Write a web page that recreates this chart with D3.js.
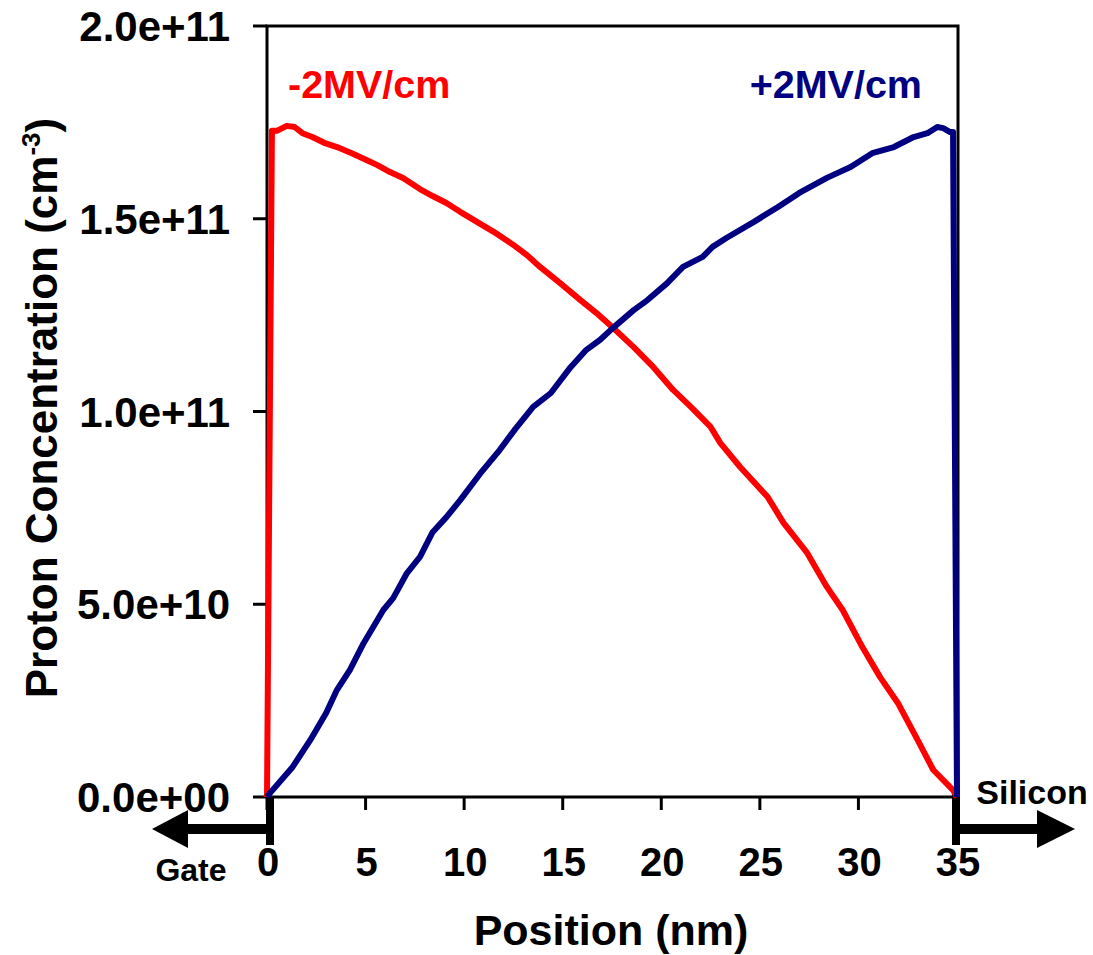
<!DOCTYPE html>
<html>
<head>
<meta charset="utf-8">
<script src="https://cdn.jsdelivr.net/npm/d3@7"></script>
<style>
  body { margin: 0; background: #fff; }
  svg text { font-family: "Liberation Sans", Arial, sans-serif; font-weight: bold; }
</style>
</head>
<body>
<svg id="chart" width="1093" height="955"></svg>
<script>
// Red curve (-2MV/cm): position (nm) and concentration (cm^-3)
const redX = [0, 0.25, 0.5, 1.0, 1.4, 1.8, 2.3, 2.9, 3.55, 4.3, 5.07, 5.6, 6.24, 6.9, 7.76, 8.4, 9.1, 9.8,
  10.65, 11.5, 12.5, 13.2, 13.85, 14.87, 15.9, 16.7, 17.55, 18.6, 19.6, 20.6, 21.5, 22.5, 23.0, 24.0,
  25.4, 26.2, 27.4, 28.4, 29.2, 30.2, 31.1, 32.0, 33.0, 33.8, 34.8, 35];
const redY = [0, 1.728e11, 1.728e11, 1.741e11, 1.738e11, 1.722e11, 1.712e11, 1.697e11, 1.686e11, 1.670e11,
  1.652e11, 1.639e11, 1.621e11, 1.606e11, 1.577e11, 1.559e11, 1.541e11, 1.518e11, 1.492e11, 1.466e11,
  1.432e11, 1.405e11, 1.375e11, 1.333e11, 1.289e11, 1.256e11, 1.217e11, 1.167e11, 1.115e11, 1.056e11,
  1.012e11, 0.960e11, 0.918e11, 0.856e11, 0.778e11, 0.711e11, 0.633e11, 0.545e11, 0.485e11, 0.389e11,
  0.311e11, 0.244e11, 0.148e11, 0.070e11, 0.018e11, 0];

// Blue curve (+2MV/cm)
const blueX = [0, 0.15, 1.3, 2.2, 3.0, 3.55, 4.2, 4.9, 5.9, 6.4, 7.1, 7.76, 8.4, 9.1, 9.8, 10.8, 11.8,
  12.6, 13.5, 14.4, 15.4, 16.2, 16.9, 17.55, 18.6, 19.3, 20.3, 21.1, 22.1, 22.6, 23.3, 24.7, 25.9, 27.0,
  28.4, 29.6, 30.7, 31.8, 32.8, 33.5, 34.0, 34.3, 34.65, 34.8, 35];
const blueY = [0, 0.010e11, 0.078e11, 0.148e11, 0.218e11, 0.278e11, 0.329e11, 0.399e11, 0.485e11, 0.516e11,
  0.581e11, 0.623e11, 0.687e11, 0.726e11, 0.770e11, 0.838e11, 0.900e11, 0.955e11, 1.012e11, 1.048e11,
  1.115e11, 1.160e11, 1.186e11, 1.217e11, 1.263e11, 1.289e11, 1.333e11, 1.375e11, 1.401e11, 1.427e11,
  1.450e11, 1.492e11, 1.530e11, 1.567e11, 1.606e11, 1.634e11, 1.670e11, 1.686e11, 1.712e11, 1.722e11,
  1.738e11, 1.735e11, 1.725e11, 1.725e11, 0];

// Axis ticks
const xTicks = [0, 5, 10, 15, 20, 25, 30, 35];
const yTicks = [0, 0.5e11, 1.0e11, 1.5e11, 2.0e11];
const yTickLabels = ["0.0e+00", "5.0e+10", "1.0e+11", "1.5e+11", "2.0e+11"];

const svg = d3.select("#chart");
const plotLeft = 267, plotRight = 957, plotTop = 26, plotBottom = 797;

const x = d3.scaleLinear().domain([0, 35]).range([plotLeft, plotRight]);
const y = d3.scaleLinear().domain([0, 2e11]).range([plotBottom, plotTop]);

// plot box
svg.append("rect")
    .attr("x", plotLeft).attr("y", plotTop)
    .attr("width", plotRight - plotLeft + 1).attr("height", plotBottom - plotTop)
    .attr("fill", "none").attr("stroke", "#000").attr("stroke-width", 3);

// y ticks + labels
yTicks.forEach((t, i) => {
    svg.append("line")
        .attr("x1", plotLeft - 14).attr("x2", plotLeft)
        .attr("y1", y(t)).attr("y2", y(t))
        .attr("stroke", "#000").attr("stroke-width", 3);
    svg.append("text")
        .attr("x", 230).attr("y", y(t))
        .attr("dy", "0.36em")
        .attr("text-anchor", "end")
        .attr("font-size", "42px")
        .text(yTickLabels[i]);
});

// x ticks + labels
xTicks.forEach(t => {
    svg.append("line")
        .attr("x1", x(t)).attr("x2", x(t))
        .attr("y1", plotBottom).attr("y2", plotBottom + 13)
        .attr("stroke", "#000").attr("stroke-width", 3);
    svg.append("text")
        .attr("x", x(t) + 1).attr("y", 876)
        .attr("text-anchor", "middle")
        .attr("font-size", "40px")
        .text(t);
});

// Gate / Silicon markers
svg.append("rect").attr("x", x(0) - 1).attr("y", plotBottom).attr("width", 8).attr("height", 48).attr("fill", "#000");
svg.append("rect").attr("x", x(35) - 5).attr("y", plotBottom - 3).attr("width", 8).attr("height", 51).attr("fill", "#000");

const arrowY = 829;
svg.append("rect").attr("x", 186).attr("y", arrowY - 5).attr("width", x(0) - 186).attr("height", 10).attr("fill", "#000");
svg.append("path").attr("d", `M152,${arrowY} L188,${arrowY - 19} L188,${arrowY + 19} Z`).attr("fill", "#000");
svg.append("rect").attr("x", x(35)).attr("y", arrowY - 5).attr("width", 1039 - x(35)).attr("height", 10).attr("fill", "#000");
svg.append("path").attr("d", `M1075,${arrowY} L1037,${arrowY - 19} L1037,${arrowY + 19} Z`).attr("fill", "#000");

svg.append("text").attr("x", 191).attr("y", 881).attr("text-anchor", "middle")
    .attr("font-size", "32px").text("Gate");
svg.append("text").attr("x", 1032).attr("y", 804).attr("text-anchor", "middle")
    .attr("font-size", "34px").text("Silicon");

// curves
const line = d3.line().x(d => x(d[0])).y(d => y(d[1]));

svg.append("path")
    .datum(redX.map((v, i) => [v, redY[i]]))
    .attr("d", line)
    .attr("fill", "none").attr("stroke", "#ff0000")
    .attr("stroke-width", 6).attr("stroke-linejoin", "round");

svg.append("path")
    .datum(blueX.map((v, i) => [v, blueY[i]]))
    .attr("d", line)
    .attr("fill", "none").attr("stroke", "#000080")
    .attr("stroke-width", 6).attr("stroke-linejoin", "round");

// series labels
svg.append("text").attr("x", 288).attr("y", 98).attr("font-size", "39.5px")
    .attr("fill", "#ff0000").text("-2MV/cm");
svg.append("text").attr("x", 922).attr("y", 98).attr("font-size", "39.5px")
    .attr("text-anchor", "end").attr("fill", "#000080").text("+2MV/cm");

// axis titles
svg.append("text").attr("x", 611).attr("y", 945).attr("text-anchor", "middle")
    .attr("font-size", "43px").text("Position (nm)");

const yt = svg.append("text")
    .attr("transform", "translate(57,408) rotate(-90)")
    .attr("text-anchor", "middle")
    .attr("font-size", "44px");
yt.append("tspan").text("Proton Concentration (cm");
yt.append("tspan").attr("font-size", "26px").attr("dy", "-17").text("-3");
yt.append("tspan").attr("dy", "17").text(")");
</script>
</body>
</html>
